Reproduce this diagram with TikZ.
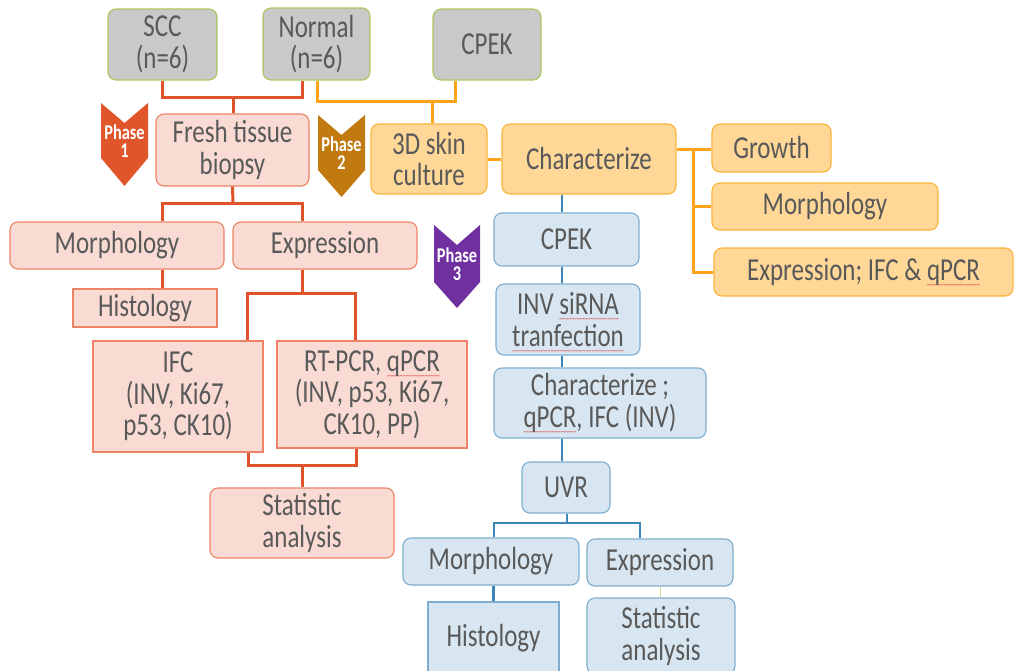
\documentclass[tikz,border=0pt]{standalone}
\usepackage{fontspec}
\setmainfont[FakeStretch=0.78]{Carlito}
\usetikzlibrary{calc}
\definecolor{txt}{HTML}{595959}
\definecolor{grayfill}{HTML}{C9C9C9}
\definecolor{grayedge}{HTML}{A9C85E}
\definecolor{pinkfill}{HTML}{F9DBD4}
\definecolor{pinkedge}{HTML}{EB8467}
\definecolor{redline}{HTML}{E0522A}
\definecolor{orfill}{HTML}{FFD797}
\definecolor{oredge}{HTML}{F9B33B}
\definecolor{orline}{HTML}{FFA31A}
\definecolor{blfill}{HTML}{D7E6F0}
\definecolor{bledge}{HTML}{7DAED0}
\definecolor{blline}{HTML}{3B87B9}
\definecolor{thinline}{HTML}{D4DC80}
\definecolor{sqcol}{HTML}{E03A3A}
\definecolor{ph1col}{HTML}{E0562A}
\definecolor{ph2col}{HTML}{C07A10}
\definecolor{ph3col}{HTML}{7030A0}
\newsavebox\sqbox
\newcommand\sq[1]{\sbox\sqbox{#1}\rlap{\color{sqcol}\raisebox{-7pt}[0pt][0pt]{\hbox to\wd\sqbox{\xleaders\hbox{\fontsize{8}{8}\selectfont\char"7E}\hfill}}}\usebox\sqbox}
\newcommand\bx[7]{\node[#2, minimum width={(#5)-(#3)}, minimum height={(#6)-(#4)}] (#1) at ({((#3)+(#5))/2},{((#4)+(#6))/2}) {#7};}
\newcommand\chev[9]{%
  \fill[#2] (#3,#5) -- ({((#3)+(#4))/2},{(#5)+(#6)}) -- (#4,#5) -- (#4,#7) -- ({((#3)+(#4))/2},#8) -- (#3,#7) -- cycle;
  \node[phtxt] (#1) at ({((#3)+(#4))/2},{((#7)+(#5)+(#6))/2+1}) {Phase\\#9};}
\tikzset{
  box/.style={draw, line width=1.1pt, text=txt, align=center, inner sep=0pt,
    font=\fontsize{32}{31.5}\selectfont},
  gbox/.style={box, fill=grayfill, draw=grayedge, rounded corners=8pt},
  pbox/.style={box, fill=pinkfill, draw=pinkedge, rounded corners=8pt},
  psq/.style={box, fill=pinkfill, draw=pinkedge},
  obox/.style={box, fill=orfill, draw=oredge, rounded corners=8pt},
  bbox/.style={box, fill=blfill, draw=bledge, rounded corners=8pt},
  bsq/.style={box, fill=blfill, draw=bledge},
  rl/.style={draw=redline, line width=3pt},
  ol/.style={draw=orline, line width=3pt},
  bl/.style={draw=blline, line width=2.6pt},
  phtxt/.style={text=white, font=\fontsize{21}{18}\selectfont\bfseries, align=center, inner sep=0pt},
}
\begin{document}
\begin{tikzpicture}[x=1pt,y=-1pt]
\useasboundingbox (0,0) rectangle (1015,670);
% top row
\bx{scc}{gbox}{108}{9}{217}{80}{SCC\\(n=6)}
\bx{norm}{gbox}{263}{8}{370}{80}{Normal\\(n=6)}
\bx{cpek}{gbox}{433}{9}{541}{80}{CPEK}
% phase 1 / 2
\bx{fresh}{pbox}{156}{114}{309}{186}{Fresh tissue\\biopsy}
\bx{skin}{obox}{371}{124}{487}{194}{3D skin\\culture}
\bx{char}{obox}{502}{124}{676}{194}{Characterize}
\bx{grow}{obox}{712}{124}{831}{172}{Growth}
\bx{omorph}{obox}{712}{183}{938}{230}{Morphology}
\bx{oexpr}{obox}{714}{248}{1013}{296}{Expression; IFC \& \sq{qPCR}}
% left tree
\bx{pmorph}{pbox}{10}{222}{224}{269}{Morphology}
\bx{pexpr}{pbox}{233}{222}{417}{269}{Expression}
\bx{phist}{psq}{73}{289}{217}{327}{Histology}
\bx{ifc}{psq}{93}{341}{263}{452}{IFC\\(INV, Ki67,\\p53, CK10)}
\bx{rt}{psq}{277}{341}{467}{448}{RT-PCR, \sq{qPCR}\\(INV, p53, Ki67,\\CK10, PP)}
\bx{pstat}{pbox}{210}{488}{394}{558}{Statistic\\analysis}
% blue tree
\bx{bcpek}{bbox}{494}{213}{639}{266}{CPEK}
\bx{inv}{bbox}{496}{284}{640}{355}{INV \sq{siRNA}\\\sq{tranfection}}
\bx{bchar}{bbox}{494}{368}{706}{438}{Characterize ;\\\sq{qPCR}, IFC (INV)}
\bx{uvr}{bbox}{522}{462}{610}{513}{UVR}
\bx{bmorph}{bbox}{403}{538}{579}{585}{Morphology}
\bx{bexpr}{bbox}{587}{539}{733}{586}{Expression}
\bx{bhist}{bsq}{428}{602}{559}{674}{Histology}
\bx{bstat}{bbox}{587}{598}{735}{674}{Statistic\\analysis}
% phase chevrons
\chev{ph1}{ph1col}{101}{148}{103}{20}{158}{186}{1}
\chev{ph2}{ph2col}{318}{365}{115}{20}{170}{197}{2}
\chev{ph3}{ph3col}{434}{480}{225}{20}{282}{308}{3}
% red connectors (top)
\coordinate (r1) at (233,97);
\draw[rl] (scc.south) |- (r1) -| ([xshift=-14.5pt]norm.south);
\draw[rl] (r1) -- (r1 |- fresh.north);
% orange connectors
\coordinate (o1) at (432,101);
\draw[ol] ([xshift=0.5pt]norm.south) |- (o1) -| ([xshift=-32pt]cpek.south);
\draw[ol] (o1) -- (o1 |- skin.north);
\draw[ol] (skin.east) -- (skin.east -| char.west);
\coordinate (o2) at (693,149);
\draw[ol] (char.east |- o2) -- (grow.west |- o2);
\draw[ol] (o2) |- (omorph.west);
\draw[ol] (o2) |- (oexpr.west);
% left red tree
\coordinate (r2) at (233,203);
\draw[rl] (fresh.south) -- (r2);
\draw[rl] ([xshift=45pt]pmorph.north) |- (r2) -| ([xshift=-23pt]pexpr.north);
\draw[rl] ([xshift=45pt]pmorph.south) -- ([xshift=45pt]pmorph.south |- phist.north);
\coordinate (r3) at (302,293);
\draw[rl] ([xshift=-23pt]pexpr.south) -- (r3);
\draw[rl] ([xshift=69pt]ifc.north) |- (r3) -| ([xshift=-17pt]rt.north);
\coordinate (r4) at (302,465);
\draw[rl] ([xshift=70pt]ifc.south) |- (r4) -| ([xshift=-16pt]rt.south);
\draw[rl] (r4) -- (pstat.north);
% blue tree
\coordinate (b0) at (562,0);
\draw[bl] (char.south -| b0) -- (bcpek.north -| b0);
\draw[bl] (bcpek.south -| b0) -- (inv.north -| b0);
\draw[bl] (inv.south -| b0) -- (bchar.north -| b0);
\draw[bl] (bchar.south -| b0) -- (uvr.north -| b0);
\coordinate (b1) at (567,523);
\draw[bl] (uvr.south -| b1) -- (b1);
\draw[bl] ([xshift=3pt]bmorph.north) |- (b1) -| ([xshift=-20pt]bexpr.north);
\draw[bl] (bhist.north |- bmorph.south) -- (bhist.north);
\draw[draw=thinline, line width=1pt] (bexpr.south) -- (bexpr.south |- bstat.north);
\end{tikzpicture}
\end{document}
